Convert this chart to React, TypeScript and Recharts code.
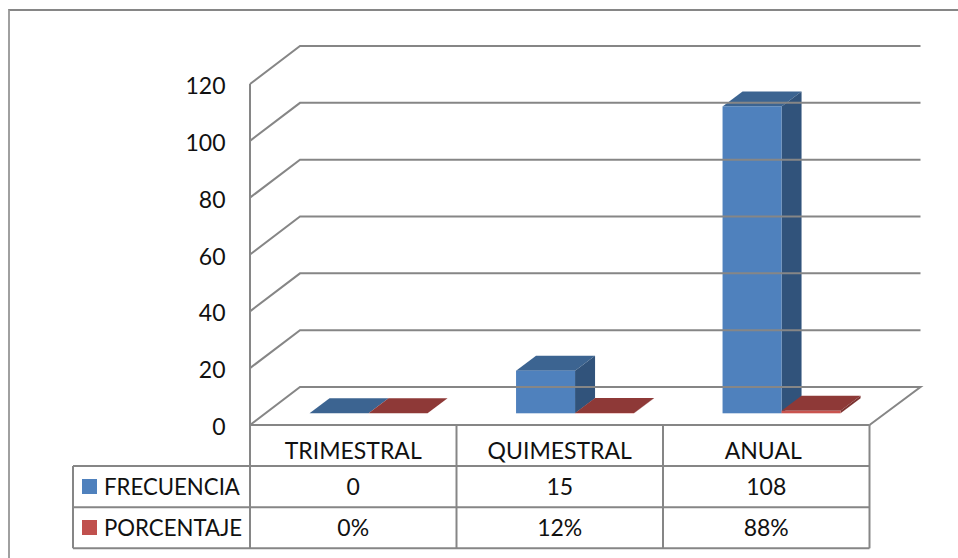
import React from "react";
import { BarChart, Bar, XAxis, YAxis } from "recharts";

const categories = ["TRIMESTRAL", "QUIMESTRAL", "ANUAL"];
const frecuencia = [0, 15, 108];
const porcentaje = [0, 0.12, 0.88];
const porcentajeLabels = ["0%", "12%", "88%"];
const yTicks = [0, 20, 40, 60, 80, 100, 120];
const seriesNames = ["FRECUENCIA", "PORCENTAJE"];

const data = categories.map((c, i) => ({
  name: c,
  frecuencia: frecuencia[i],
  porcentaje: porcentaje[i],
}));

const W = 958, H = 558;
const L = 250, R = 869.5, T = 84, B = 425;
const DX = 50, DY = 38;
const GRID = "#868686";
const FONT = "Lato, Carlito, sans-serif";
const FS = 23;
const INK = "#111111";
const ROWS = [466, 507.3, 548.3];
const TABLE_L = 73;
const SHIFT_X = 15.3, SHIFT_Y = 11.7, BDX = 20, BDY = 15;

const YTick = (props: any) => {
  const { y, payload } = props;
  const isZero = payload.value === 0;
  return (
    <g>
      <polyline
        points={`${L},${y} ${L + DX},${y - DY} ${R + DX + 1},${y - DY}${isZero ? ` ${R},${y}` : ""}`}
        fill="none"
        stroke={GRID}
        strokeWidth={2}
      />
      <text x={225.5} y={y + 10} textAnchor="end" fontFamily={FONT} fontSize={FS} fill={INK}>
        {payload.value}
      </text>
    </g>
  );
};

const cell = (x: number, y: number, s: React.ReactNode, anchor: string = "middle", size: number = FS) => (
  <text x={x} y={y} textAnchor={anchor as any} fontFamily={FONT} fontSize={size} fill={INK}>
    {s}
  </text>
);

const XTick = (props: any) => {
  const { x, index } = props;
  const bandW = (R - L) / categories.length;
  const right = L + bandW * (index + 1);
  const catNudge = index === 2 ? -3 : 0;
  return (
    <g>
      <line x1={right} y1={B} x2={right} y2={ROWS[2]} stroke={GRID} strokeWidth={2} />
      {index === 0 && (
        <g>
          <line x1={L} y1={T} x2={L} y2={ROWS[2]} stroke={GRID} strokeWidth={2} />
          <line x1={L} y1={B} x2={R} y2={B} stroke={GRID} strokeWidth={2} />
          {ROWS.map((r) => (
            <line key={r} x1={TABLE_L} y1={r} x2={R} y2={r} stroke={GRID} strokeWidth={2} />
          ))}
          <line x1={TABLE_L} y1={ROWS[0]} x2={TABLE_L} y2={ROWS[2]} stroke={GRID} strokeWidth={2} />
          <rect x={82} y={479} width={15} height={15} fill="#4F81BD" />
          <rect x={82} y={520} width={15} height={15} fill="#C0504D" />
          {cell(104, 495, seriesNames[0], "start", 22.2)}
          {cell(104, 536, seriesNames[1], "start", 22.2)}
        </g>
      )}
      {cell(x + catNudge, 459, categories[index])}
      {cell(x, 495, frecuencia[index])}
      {cell(x, 536, porcentajeLabels[index])}
    </g>
  );
};

const box = (front: string, top: string, side: string) => (props: any) => {
  const { x, y, width, height } = props;
  const x0 = x + SHIFT_X;
  const x1 = x0 + width;
  const yT = y - SHIFT_Y;
  const yB = yT + height;
  return (
    <g>
      <polygon
        points={`${x0},${yT} ${x0 + BDX},${yT - BDY} ${x1 + BDX},${yT - BDY} ${x1},${yT}`}
        fill={top}
      />
      <polygon
        points={`${x1},${yT} ${x1 + BDX},${yT - BDY} ${x1 + BDX},${yB - BDY} ${x1},${yB}`}
        fill={side}
      />
      <rect x={x0} y={yT} width={width} height={height} fill={front} />
    </g>
  );
};

const BlueBox = box("#4F81BD", "#3C6491", "#31537B");
const RedBox = box("#C9544F", "#8E3937", "#7C3230");

export default function App() {
  return (
    <div style={{ position: "absolute", left: 0, top: 0, width: W, height: H, overflow: "hidden", background: "#fff" }}>
      <div
        style={{
          position: "absolute",
          left: 8,
          top: 9,
          width: W,
          height: H,
          borderTop: "2px solid #868686",
          borderLeft: "2px solid #a0a0a0",
        }}
      />
      <div style={{ position: "absolute", left: 0, top: 0 }}>
        <BarChart
          width={W}
          height={H}
          data={data}
          margin={{ top: T, right: W - R, left: 0, bottom: 0 }}
          barCategoryGap={44.25}
          barGap={0}
        >
          <YAxis
            width={L}
            domain={[0, 120]}
            ticks={yTicks}
            interval={0}
            axisLine={false}
            tickLine={false}
            tick={YTick}
          />
          <XAxis
            dataKey="name"
            height={H - B}
            interval={0}
            axisLine={false}
            tickLine={false}
            tick={XTick}
          />
          <Bar dataKey="frecuencia" shape={BlueBox} isAnimationActive={false} />
          <Bar dataKey="porcentaje" shape={RedBox} isAnimationActive={false} />
        </BarChart>
      </div>
    </div>
  );
}
